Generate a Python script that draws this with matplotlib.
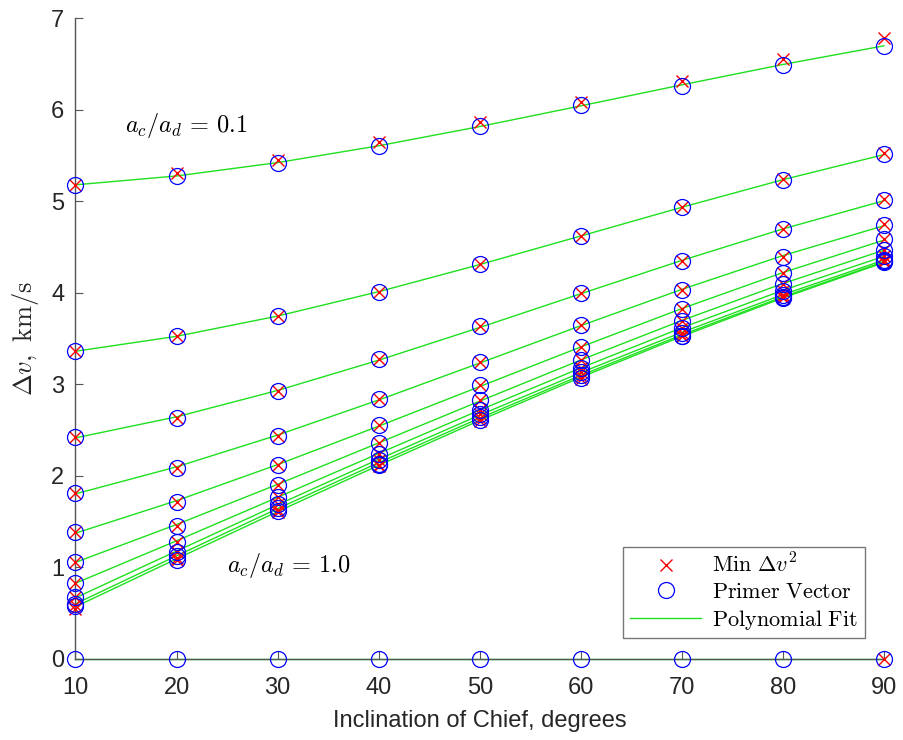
import numpy as np
import matplotlib
matplotlib.use("Agg")
import matplotlib.pyplot as plt
from matplotlib.lines import Line2D

plt.rcParams['mathtext.fontset'] = 'cm'
plt.rcParams['font.family'] = ['Liberation Sans', 'DejaVu Sans']

inclination = [10, 20, 30, 40, 50, 60, 70, 80, 90]

# Primer vector solutions, one row per a_c/a_d ratio (0.1 ... 1.0), then the zero case
primer = [
    [5.18, 5.27, 5.42, 5.60, 5.82, 6.05, 6.26, 6.49, 6.70],
    [3.36, 3.52, 3.74, 4.01, 4.31, 4.62, 4.93, 5.23, 5.51],
    [2.42, 2.63, 2.92, 3.27, 3.63, 3.99, 4.34, 4.69, 5.01],
    [1.81, 2.08, 2.43, 2.84, 3.24, 3.64, 4.03, 4.39, 4.74],
    [1.38, 1.71, 2.11, 2.55, 2.99, 3.40, 3.82, 4.21, 4.58],
    [1.06, 1.45, 1.90, 2.36, 2.83, 3.26, 3.69, 4.09, 4.47],
    [0.83, 1.27, 1.77, 2.24, 2.72, 3.18, 3.61, 4.02, 4.40],
    [0.67, 1.16, 1.69, 2.17, 2.67, 3.13, 3.56, 3.97, 4.36],
    [0.60, 1.12, 1.64, 2.13, 2.64, 3.10, 3.53, 3.95, 4.34],
    [0.57, 1.08, 1.61, 2.11, 2.61, 3.07, 3.52, 3.94, 4.33],
    [0.0, 0.0, 0.0, 0.0, 0.0, 0.0, 0.0, 0.0, 0.0],
]

# Minimum delta-v squared solutions (NaN where no solution was found)
nan = np.nan
min_dv2 = [
    [5.18, 5.31, 5.45, 5.64, 5.86, 6.08, 6.31, 6.55, 6.78],
    [3.36, 3.52, 3.74, 4.01, 4.31, 4.62, 4.93, 5.24, 5.52],
    [2.42, 2.63, 2.92, 3.27, 3.63, 3.99, 4.34, 4.69, 5.02],
    [1.81, 2.08, 2.43, 2.84, 3.24, 3.64, 4.03, 4.39, 4.75],
    [1.38, 1.71, 2.11, 2.55, 2.99, 3.40, 3.82, 4.21, 4.58],
    [1.06, 1.45, 1.90, 2.36, 2.83, 3.26, 3.69, 4.09, 4.47],
    [0.83, 1.27, 1.77, 2.24, 2.72, 3.18, 3.61, 4.02, 4.40],
    [0.67, 1.16, 1.69, 2.17, 2.67, 3.13, 3.56, 3.97, 4.36],
    [0.58, 1.10, 1.62, 2.12, 2.63, 3.09, 3.53, 3.95, 4.34],
    [0.54, 1.08, 1.60, 2.10, 2.60, 3.06, 3.52, 3.94, 4.33],
    [nan, nan, nan, nan, nan, nan, nan, nan, 0.0],
]

x = np.array(inclination, dtype=float)
fig = plt.figure(figsize=(9.04, 7.40), dpi=100)
ax = fig.add_axes([0.0835, 0.1101, 0.8944, 0.8655])

green = '#1fe01f'
for row_p, row_m in zip(primer, min_dv2):
    p = np.array(row_p)
    coef = np.polyfit(x, p, 3)
    ax.plot(x, np.polyval(coef, x), color=green, lw=1.0, zorder=2, clip_on=False)
    ax.plot(x, row_m, ls='none', marker='x', ms=8, mew=1.0, color='red',
            zorder=3, clip_on=False)
    ax.plot(x, p, ls='none', marker='o', ms=11.5, mew=0.9, mfc='none', mec='blue',
            zorder=4, clip_on=False)

ax.set_xlim(10, 90)
ax.set_ylim(0, 7)
ax.set_xticks(inclination)
ax.set_yticks(range(8))
for s in ('top', 'right'):
    ax.spines[s].set_visible(False)
for s in ('left', 'bottom'):
    ax.spines[s].set_color('#555555')
    ax.spines[s].set_linewidth(1.0)
ax.tick_params(direction='in', length=6, width=0.8, color='#555555',
               labelsize=17, labelcolor='#262626')
ax.tick_params(axis='x', pad=13)
ax.tick_params(axis='y', pad=8)

ax.set_xlabel('Inclination of Chief, degrees', fontsize=17, color='#262626', labelpad=8)
ax.set_ylabel(r'$\Delta v,\ \mathrm{km/s}$', fontsize=19, color='#262626', labelpad=7)

ax.text(14.9, 5.83, r'$a_c/a_d\,=\,0.1$', fontsize=17.5, va='center', ha='left')
ax.text(25.0, 1.02, r'$a_c/a_d\,=\,1.0$', fontsize=17.5, va='center', ha='left')

handles = [
    Line2D([], [], ls='none', marker='x', ms=8, mew=1.0, color='red'),
    Line2D([], [], ls='none', marker='o', ms=11.5, mew=0.9, mfc='none', mec='blue'),
    Line2D([], [], color=green, lw=1.0),
]
labels = [r'$\mathrm{Min}\ \Delta v^2$', r'$\mathrm{Primer\ Vector}$',
          r'$\mathrm{Polynomial\ Fit}$']
leg = ax.legend(handles, labels, loc='lower right', bbox_to_anchor=(0.9765, 0.0315),
                borderaxespad=0, fontsize=16, frameon=True, fancybox=False,
                handlelength=3.2, handletextpad=0.5, labelspacing=0.2,
                borderpad=0.3)
leg.get_frame().set_edgecolor('#555555')
leg.get_frame().set_linewidth(1.0)

fig.savefig('out.png', dpi=100)
